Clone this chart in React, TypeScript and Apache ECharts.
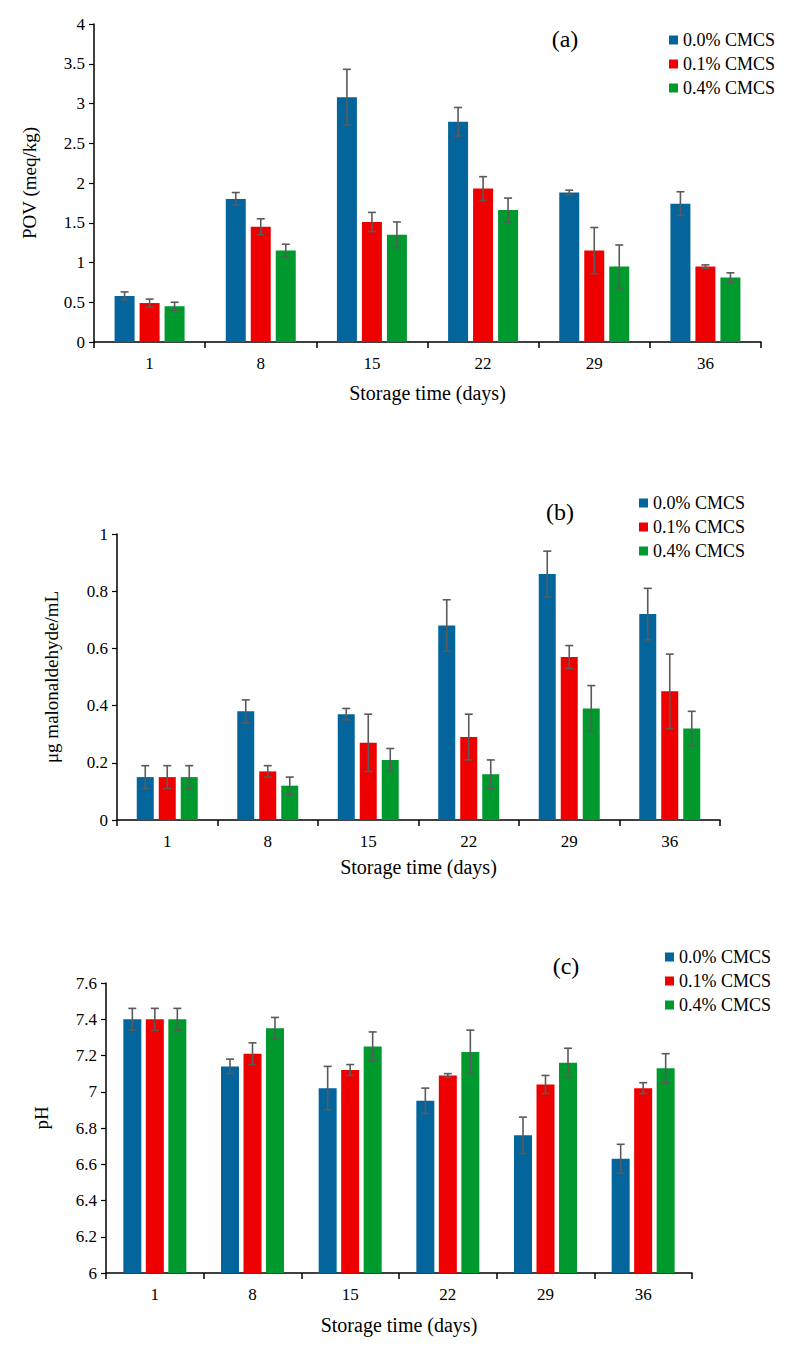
import React, { useEffect, useRef } from 'react';
import * as echarts from 'echarts';

const FONT = 'Liberation Serif';

// ---------- data ----------
const categories = ['1', '8', '15', '22', '29', '36'];
const seriesNames = ['0.0% CMCS', '0.1% CMCS', '0.4% CMCS'];

// (a) POV (meq/kg)
const povMean00 = [0.58, 1.8, 3.08, 2.77, 1.88, 1.74];
const povMean01 = [0.49, 1.45, 1.51, 1.93, 1.15, 0.95];
const povMean04 = [0.45, 1.15, 1.35, 1.66, 0.95, 0.81];
const povErr00 = [0.05, 0.08, 0.35, 0.18, 0.03, 0.15];
const povErr01 = [0.05, 0.1, 0.12, 0.15, 0.29, 0.02];
const povErr04 = [0.05, 0.08, 0.16, 0.15, 0.27, 0.06];

// (b) µg malonaldehyde/mL
const mdaMean00 = [0.15, 0.38, 0.37, 0.68, 0.86, 0.72];
const mdaMean01 = [0.15, 0.17, 0.27, 0.29, 0.57, 0.45];
const mdaMean04 = [0.15, 0.12, 0.21, 0.16, 0.39, 0.32];
const mdaErr00 = [0.04, 0.04, 0.02, 0.09, 0.08, 0.09];
const mdaErr01 = [0.04, 0.02, 0.1, 0.08, 0.04, 0.13];
const mdaErr04 = [0.04, 0.03, 0.04, 0.05, 0.08, 0.06];

// (c) pH
const phMean00 = [7.4, 7.14, 7.02, 6.95, 6.76, 6.63];
const phMean01 = [7.4, 7.21, 7.12, 7.09, 7.04, 7.02];
const phMean04 = [7.4, 7.35, 7.25, 7.22, 7.16, 7.13];
const phErr00 = [0.06, 0.04, 0.12, 0.07, 0.1, 0.08];
const phErr01 = [0.06, 0.06, 0.03, 0.01, 0.05, 0.03];
const phErr04 = [0.06, 0.06, 0.08, 0.12, 0.08, 0.08];

const yTickPOV = { min: 0, max: 4, interval: 0.5 };
const yTickMDA = { min: 0, max: 1, interval: 0.2 };
const yTickPH = { min: 6, max: 7.6, interval: 0.2 };

// ---------- style / layout ----------
const COLORS = ['#03659B', '#EE0000', '#00992E'];
const ERR_COLOR = '#5A5A5A';

const PANELS = [
  {
    grid: { left: 94, top: 24, width: 667, height: 318 },
    ticks: yTickPOV,
    means: [povMean00, povMean01, povMean04],
    errs: [povErr00, povErr01, povErr04],
    barWidth: 20,
    barGapPx: 5,
    tag: '(a)',
    tagPos: [565, 39],
    legendPos: [669, 31],
    yTitle: 'POV (meq/kg)',
    yTitlePos: [29, 183],
    xNameGap: 41,
  },
  {
    grid: { left: 117, top: 534, width: 603, height: 286 },
    ticks: yTickMDA,
    means: [mdaMean00, mdaMean01, mdaMean04],
    errs: [mdaErr00, mdaErr01, mdaErr04],
    barWidth: 17,
    barGapPx: 5,
    tag: '(b)',
    tagPos: [560, 512],
    legendPos: [639, 494],
    yTitle: 'μg malonaldehyde/mL',
    yTitlePos: [51, 677],
    xNameGap: 37,
  },
  {
    grid: { left: 106, top: 983, width: 586, height: 290 },
    ticks: yTickPH,
    means: [phMean00, phMean01, phMean04],
    errs: [phErr00, phErr01, phErr04],
    barWidth: 18,
    barGapPx: 4.5,
    tag: '(c)',
    tagPos: [566, 966],
    legendPos: [665, 948],
    yTitle: 'pH',
    yTitlePos: [41, 1118],
    xNameGap: 42,
  },
];

function buildOption() {
  const grid: any[] = [];
  const xAxis: any[] = [];
  const yAxis: any[] = [];
  const series: any[] = [];
  const legend: any[] = [];
  const graphic: any[] = [];

  PANELS.forEach((p, gi) => {
    grid.push({ ...p.grid, containLabel: false });
    xAxis.push({
      type: 'category',
      gridIndex: gi,
      data: categories,
      axisLine: { show: true, lineStyle: { color: '#000', width: 1.5 } },
      axisTick: { show: true, interval: 0, length: 6, lineStyle: { color: '#000', width: 1.5 } },
      axisLabel: { interval: 0, margin: 13, fontFamily: FONT, fontSize: 17, color: '#000' },
      splitLine: { show: false },
      name: 'Storage time (days)',
      nameLocation: 'middle',
      nameGap: p.xNameGap,
      nameTextStyle: { fontFamily: FONT, fontSize: 20, color: '#000' },
    });
    yAxis.push({
      type: 'value',
      gridIndex: gi,
      min: p.ticks.min,
      max: p.ticks.max,
      interval: p.ticks.interval,
      axisLine: { show: true, lineStyle: { color: '#000', width: 1.5 } },
      axisTick: { show: true, length: 5, lineStyle: { color: '#000', width: 1.2 } },
      axisLabel: { margin: 9, fontFamily: FONT, fontSize: 17, color: '#000' },
      splitLine: { show: false },
    });

    const step = p.barWidth + p.barGapPx;
    p.means.forEach((m, si) => {
      series.push({
        type: 'bar',
        name: seriesNames[si],
        xAxisIndex: gi,
        yAxisIndex: gi,
        data: m,
        barWidth: p.barWidth,
        barGap: ((p.barGapPx / p.barWidth) * 100).toFixed(1) + '%',
        itemStyle: { color: COLORS[si] },
        z: 2,
      });
    });
    p.means.forEach((m, si) => {
      const offset = (si - 1) * step;
      const errData = m.map((v, k) => [k, v - p.errs[si][k], v + p.errs[si][k]]);
      series.push({
        type: 'custom',
        name: 'err-' + gi + '-' + si,
        xAxisIndex: gi,
        yAxisIndex: gi,
        data: errData,
        encode: { x: 0, y: [1, 2] },
        z: 5,
        renderItem: (params: any, api: any) => {
          const idx = api.value(0);
          const lo = api.coord([idx, api.value(1)]);
          const hi = api.coord([idx, api.value(2)]);
          const x = lo[0] + offset;
          const cap = 4;
          const style = { stroke: ERR_COLOR, lineWidth: 1.6 };
          return {
            type: 'group',
            children: [
              { type: 'line', shape: { x1: x, y1: lo[1], x2: x, y2: hi[1] }, style },
              { type: 'line', shape: { x1: x - cap, y1: hi[1], x2: x + cap, y2: hi[1] }, style },
              { type: 'line', shape: { x1: x - cap, y1: lo[1], x2: x + cap, y2: lo[1] }, style },
            ],
          };
        },
      });
    });

    legend.push({
      data: seriesNames,
      orient: 'vertical',
      left: p.legendPos[0],
      top: p.legendPos[1],
      itemWidth: 9,
      itemHeight: 9,
      itemGap: 6,
      icon: 'rect',
      selectedMode: false,
      padding: 0,
      textStyle: { fontFamily: FONT, fontSize: 18, color: '#000' },
    });

    graphic.push({
      type: 'text',
      x: p.tagPos[0],
      y: p.tagPos[1],
      style: {
        text: p.tag,
        font: '24px ' + FONT,
        fill: '#000',
        textAlign: 'center',
        textVerticalAlign: 'middle',
        align: 'center',
        verticalAlign: 'middle',
      },
    });
    graphic.push({
      type: 'text',
      x: p.yTitlePos[0],
      y: p.yTitlePos[1],
      rotation: Math.PI / 2,
      style: {
        text: p.yTitle,
        font: '19px ' + FONT,
        fill: '#000',
        textAlign: 'center',
        textVerticalAlign: 'middle',
        align: 'center',
        verticalAlign: 'middle',
      },
    });
  });

  return {
    animation: false,
    backgroundColor: '#fff',
    textStyle: { fontFamily: FONT },
    grid,
    xAxis,
    yAxis,
    series,
    legend,
    graphic,
  };
}

export default function App() {
  const ref = useRef<HTMLDivElement | null>(null);
  useEffect(() => {
    if (!ref.current) return;
    const chart = echarts.init(ref.current, undefined, { renderer: 'svg' });
    chart.setOption(buildOption() as any);
    return () => {
      chart.dispose();
    };
  }, []);
  return (
    <div
      ref={ref}
      style={{ position: 'absolute', left: 0, top: 0, width: 797, height: 1352, background: '#fff' }}
    />
  );
}
